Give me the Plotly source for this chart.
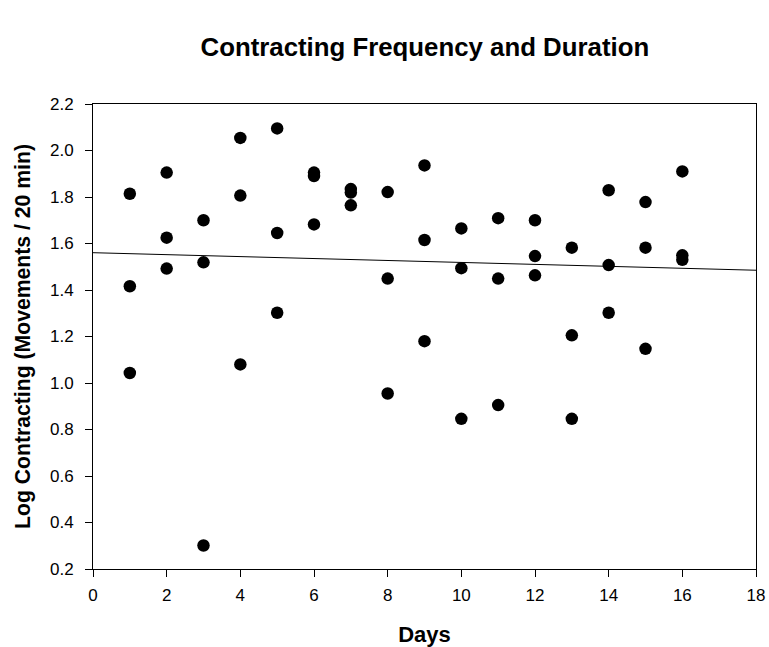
import numpy as np
import plotly.graph_objects as go

days = [1, 1, 1,
        2, 2, 2,
        3, 3, 3,
        4, 4, 4,
        5, 5, 5,
        6, 6, 6,
        7, 7, 7,
        8, 8, 8,
        9, 9, 9,
        10, 10, 10,
        11, 11, 11,
        12, 12, 12,
        13, 13, 13,
        14, 14, 14,
        15, 15, 15,
        16, 16, 16]
log_contracting = [1.814, 1.416, 1.043,
                   1.905, 1.625, 1.492,
                   1.700, 1.519, 0.301,
                   2.054, 1.806, 1.080,
                   2.095, 1.645, 1.302,
                   1.905, 1.890, 1.682,
                   1.834, 1.819, 1.764,
                   1.821, 1.449, 0.955,
                   1.936, 1.615, 1.180,
                   1.665, 1.494, 0.846,
                   1.709, 1.449, 0.905,
                   1.700, 1.546, 1.463,
                   1.582, 1.205, 0.846,
                   1.829, 1.507, 1.302,
                   1.778, 1.582, 1.147,
                   1.910, 1.549, 1.530]

x_ticks = [0, 2, 4, 6, 8, 10, 12, 14, 16, 18]
y_ticks = [0.2, 0.4, 0.6, 0.8, 1.0, 1.2, 1.4, 1.6, 1.8, 2.0, 2.2]

slope, intercept = np.polyfit(days, log_contracting, 1)
fit_x = [0, 18]
fit_y = [intercept + slope * v for v in fit_x]

fig = go.Figure()
fig.add_trace(go.Scatter(x=fit_x, y=fit_y, mode="lines",
                         line=dict(color="black", width=1), showlegend=False))
fig.add_trace(go.Scatter(x=days, y=log_contracting, mode="markers",
                         marker=dict(color="black", size=12.5), showlegend=False))

font = "Liberation Sans, Arial, sans-serif"
fig.update_layout(
    width=769, height=647,
    margin=dict(l=93, r=13, t=104, b=78),
    plot_bgcolor="white", paper_bgcolor="white",
    font=dict(family=font, color="black", size=17),
    title=dict(text="<b>Contracting Frequency and Duration</b>",
               font=dict(size=25.8, family=font, color="black"),
               x=0.5525, xanchor="center", y=0.927, yanchor="middle"),
)
fig.update_xaxes(range=[0, 18], tickvals=x_ticks, ticktext=[str(v) for v in x_ticks],
                 showgrid=False, zeroline=False, showline=True, linecolor="black",
                 linewidth=1, mirror=True, ticks="outside", ticklen=7, tickcolor="black",
                 tickfont=dict(size=17), ticklabelstandoff=4, automargin=False,
                 title=dict(text="<b>Days</b>", font=dict(size=22), standoff=22))
fig.update_yaxes(range=[0.2, 2.2], tickvals=y_ticks, ticktext=[f"{v:.1f}" for v in y_ticks],
                 showgrid=False, zeroline=False, showline=True, linecolor="black",
                 linewidth=1, mirror=True, ticks="outside", ticklen=7, tickcolor="black",
                 tickfont=dict(size=17), ticklabelstandoff=8, automargin=False,
                 title=dict(text="<b>Log Contracting (Movements / 20 min)</b>",
                            font=dict(size=21.2), standoff=13))

fig.write_html("out.html", config={"displayModeBar": False},
               post_script="document.body.style.margin='0';document.body.style.overflow='hidden';"
                           "document.documentElement.style.overflow='hidden';")
